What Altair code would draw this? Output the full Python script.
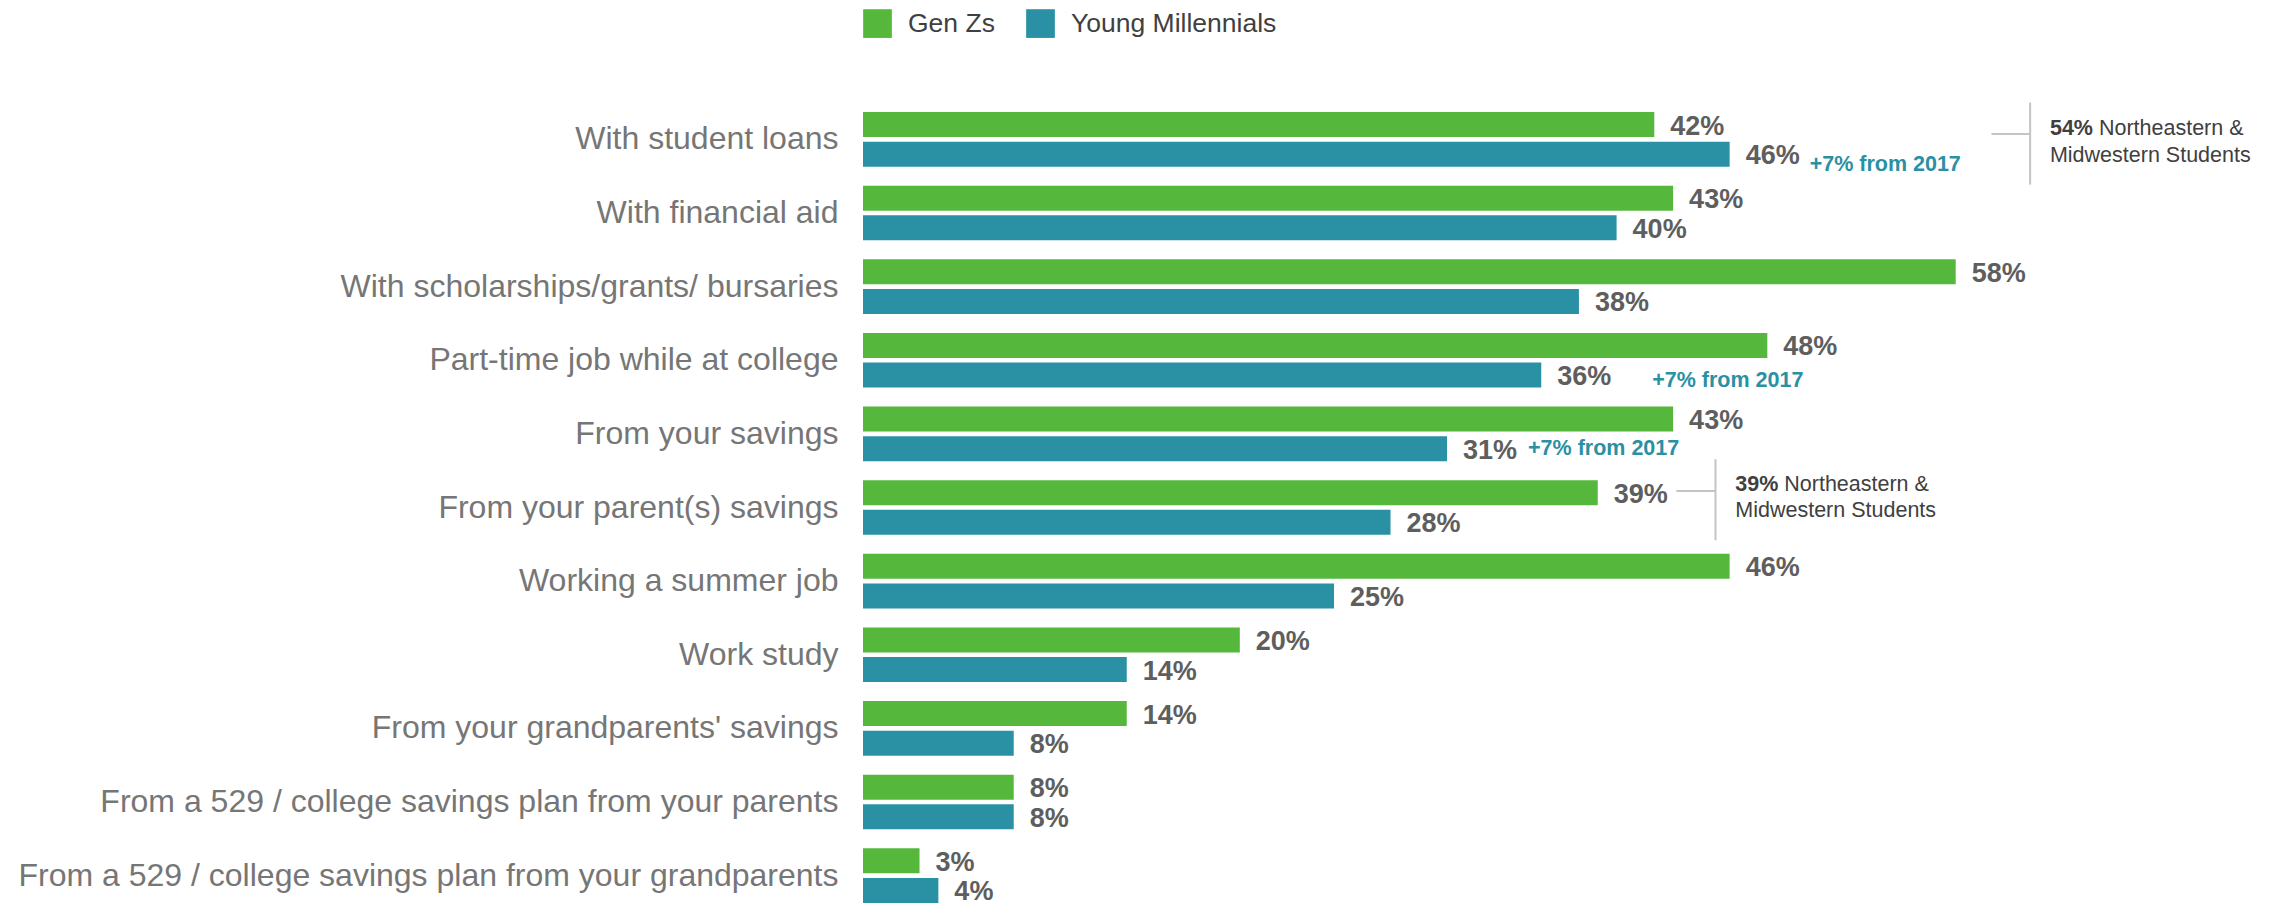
import altair as alt
import pandas as pd

# ---------------- data ----------------
CATEGORIES = [
    "With student loans",
    "With financial aid",
    "With scholarships/grants/ bursaries",
    "Part-time job while at college",
    "From your savings",
    "From your parent(s) savings",
    "Working a summer job",
    "Work study",
    "From your grandparents' savings",
    "From a 529 / college savings plan from your parents",
    "From a 529 / college savings plan from your grandparents",
]
SERIES = ["Gen Zs", "Young Millennials"]
GEN_Z = [42, 43, 58, 48, 43, 39, 46, 20, 14, 8, 3]
YOUNG_MILLENNIALS = [46, 40, 38, 36, 31, 28, 25, 14, 8, 8, 4]

CHANGE_CATEGORIES = ["With student loans", "Part-time job while at college", "From your savings"]
CHANGE_TEXT = "+7% from 2017"

REGION_CATEGORIES = ["With student loans", "From your parent(s) savings"]
REGION_PCTS = ["54%", "39%"]
REGION_LINE1 = "Northeastern &"
REGION_LINE2 = "Midwestern Students"

# ---------------- styling / layout ----------------
FONT = "Liberation Sans"
GREEN = "#55B83D"
TEAL = "#2A90A4"
LABEL_GRAY = "#767676"
VALUE_GRAY = "#5E5E5E"
DARK = "#404040"
RULE_GRAY = "#C4C4C4"

# offsets (pixels) for the "+7% from 2017" notes: (dx from bar end, dy from bar center)
CHANGE_OFFSETS = {
    "With student loans": (80, 17),
    "Part-time job while at college": (111, 12),
    "From your savings": (81, 6),
}
# bracket callouts: anchors on the percent axis and pixel offsets
CALLOUT_LAYOUT = {
    "With student loans": dict(x0=59.9, x1=61.95, xt=63.0, line_dy=-5.3,
                               vline_dy=4.2, vline_len=82, dy1=-4.3, dy2=22.3),
    "From your parent(s) savings": dict(x0=43.17, x1=45.25, xt=46.3, line_dy=-16.4,
                                        vline_dy=-7.7, vline_len=81, dy1=-16.7, dy2=9.0),
}

# ---------------- tables ----------------
rows = []
for i, c in enumerate(CATEGORIES):
    rows.append({"category": c, "series": SERIES[0], "value": GEN_Z[i], "label": f"{GEN_Z[i]}%"})
    rows.append({"category": c, "series": SERIES[1], "value": YOUNG_MILLENNIALS[i],
                 "label": f"{YOUNG_MILLENNIALS[i]}%"})
df = pd.DataFrame(rows)

x_scale = alt.Scale(domain=[0, 75], nice=False, zero=True)
y_scale = alt.Scale(domain=CATEGORIES, paddingInner=0.257, paddingOuter=0)
yo_scale = alt.Scale(domain=SERIES, paddingInner=0.158, paddingOuter=0)


def Y():
    return alt.Y(
        "category:N",
        scale=y_scale,
        sort=CATEGORIES,
        axis=alt.Axis(
            title=None, ticks=False, domain=False, grid=False,
            labelFont=FONT, labelFontSize=32, labelColor=LABEL_GRAY,
            labelPadding=25, labelLimit=0,
        ),
    )


def X(field):
    return alt.X(field, scale=x_scale, axis=None)


bars = alt.Chart(df).mark_bar().encode(
    x=X("value:Q"),
    y=Y(),
    yOffset=alt.YOffset("series:N", scale=yo_scale, sort=SERIES),
    color=alt.Color(
        "series:N",
        scale=alt.Scale(domain=SERIES, range=[GREEN, TEAL]),
        legend=alt.Legend(
            title=None, orient="none", direction="horizontal",
            legendX=0, legendY=-103, padding=0,
            symbolType="square", symbolSize=824, symbolStrokeWidth=0,
            labelFont=FONT, labelFontSize=26.5, labelColor=DARK,
            labelOffset=16, columnPadding=31, labelLimit=0,
        ),
    ),
)

value_labels = alt.Chart(df).mark_text(
    align="left", baseline="middle", dx=16, dy=2,
    font=FONT, fontSize=27, fontWeight="bold", color=VALUE_GRAY,
).encode(
    x=X("value:Q"),
    y=Y(),
    yOffset=alt.YOffset("series:N", scale=yo_scale, sort=SERIES),
    text="label:N",
)

layers = [bars, value_labels]

# "+7% from 2017" notes next to the Young Millennials bars
for c in CHANGE_CATEGORIES:
    i = CATEGORIES.index(c)
    ndf = pd.DataFrame({"category": [c], "series": [SERIES[1]],
                        "value": [YOUNG_MILLENNIALS[i]], "note": [CHANGE_TEXT]})
    dx, dy = CHANGE_OFFSETS[c]
    layers.append(
        alt.Chart(ndf).mark_text(
            align="left", baseline="alphabetic", dx=dx, dy=dy,
            font=FONT, fontSize=21.5, fontWeight="bold", color=TEAL,
        ).encode(
            x=X("value:Q"),
            y=Y(),
            yOffset=alt.YOffset("series:N", scale=yo_scale, sort=SERIES),
            text="note:N",
        )
    )

# regional bracket callouts
for c, pct in zip(REGION_CATEGORIES, REGION_PCTS):
    L = CALLOUT_LAYOUT[c]
    cdf = pd.DataFrame({"category": [c], "x0": [L["x0"]], "x1": [L["x1"]], "xt": [L["xt"]],
                        "pct": [pct], "l1": [REGION_LINE1], "l2": [REGION_LINE2]})
    base = alt.Chart(cdf)
    layers.append(
        base.mark_rule(color=RULE_GRAY, strokeWidth=2, yOffset=L["line_dy"]).encode(
            x=X("x0:Q"), x2="x1", y=Y()
        )
    )
    layers.append(
        base.mark_tick(color=RULE_GRAY, thickness=2, size=L["vline_len"], opacity=1,
                       yOffset=L["vline_dy"]).encode(
            x=X("x1:Q"), y=Y()
        )
    )
    layers.append(
        base.mark_text(align="left", baseline="alphabetic", dy=L["dy1"],
                       font=FONT, fontSize=21.5, fontWeight="bold", color=DARK).encode(
            x=X("xt:Q"), y=Y(), text="pct:N"
        )
    )
    layers.append(
        base.mark_text(align="left", baseline="alphabetic", dx=49, dy=L["dy1"],
                       font=FONT, fontSize=21.5, color=DARK).encode(
            x=X("xt:Q"), y=Y(), text="l1:N"
        )
    )
    layers.append(
        base.mark_text(align="left", baseline="alphabetic", dy=L["dy2"],
                       font=FONT, fontSize=21.5, color=DARK).encode(
            x=X("xt:Q"), y=Y(), text="l2:N"
        )
    )

chart = alt.layer(*layers).properties(
    width=1413,
    height=791,
    autosize=alt.AutoSizeParams(type="none"),
    padding={"left": 855, "top": 104, "right": 0, "bottom": 0},
).configure(
    font=FONT, background="white", view=alt.ViewConfig(stroke=None)
)

chart.save("out.html", embed_options={"renderer": "svg", "actions": False})
